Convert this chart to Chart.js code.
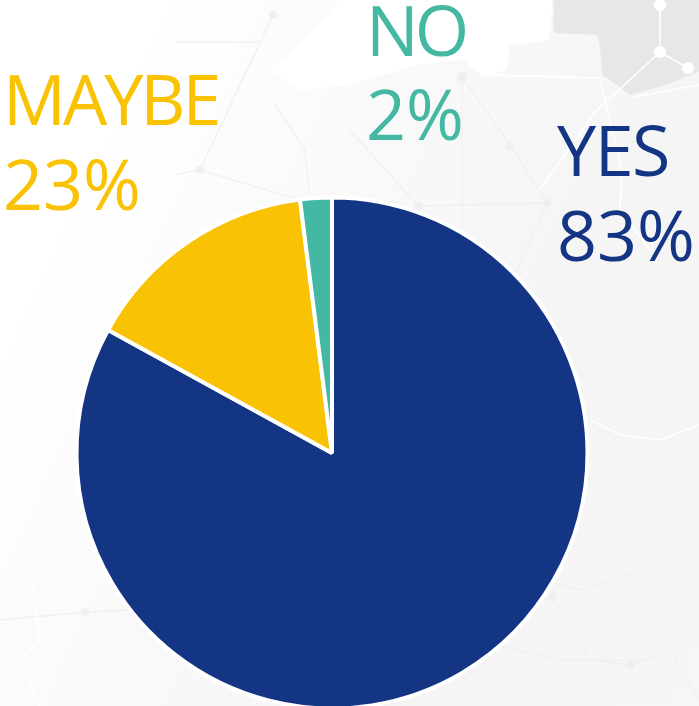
<!DOCTYPE html>
<html>
<head>
<meta charset="utf-8">
<title>Poll</title>
<script src="https://cdn.jsdelivr.net/npm/chart.js@4/dist/chart.umd.min.js"></script>
<style>
html, body { margin: 0; padding: 0; background: #fff; overflow: hidden; }
#wrap { position: relative; width: 699px; height: 706px; overflow: hidden; background: linear-gradient(115deg, #fff 16%, #f9f9f9 42%, #f5f5f5 70%, #f6f6f6 100%); }
#bg { position: absolute; left: 0; top: 0; filter: blur(0.7px); }
#c { position: absolute; left: 0; top: 0; }
</style>
</head>
<body>
<div id="wrap">
  <!-- faint map in the backdrop, not data -->
  <svg id="bg" width="699" height="706" fill="none">
    <path d="M553 0 C556 15 550 30 556 33 L596 35 C602 40 600 70 604 76 L630 95 L665 85 L699 72 L699 0 Z" fill="#e7e7e7"/>
    <path d="M300 45 L340 0 L552 0 C552 20 550 38 547 41 L510 45 L507 70 L483 76 L463 60 L417 65 L350 85 L300 90 L270 70 Z" fill="#fff"/>
    <g stroke="#f0f0f0" stroke-width="1.3">
      <path d="M462 77 L512 147 L547 203 L418 206 L350 130 M462 77 L462 230 M547 203 L515 275 M273 15 L200 170 L175 175 M200 170 L300 200 M175 42 L260 42 L200 170 M275 105 L305 150 L310 200"/>
      <path d="M0 620 L85 612 L130 610 M552 597 L590 660 L630 665 L670 650 L699 700 M475 640 L560 660 L640 660 M505 570 L580 590 L640 570"/>
    </g>
    <g stroke="#fff" stroke-width="1.6">
      <path d="M660 0 L660 52 L595 112 L540 190 M660 52 L688 68 M490 75 L600 78 L612 130 L622 170 L620 210 L650 250 M635 97 L699 85 M590 420 L620 435 L660 440 L699 425 M30 570 L40 640 L20 660 L40 706"/>
    </g>
    <g fill="#fff"><circle cx="660" cy="5" r="6"/><circle cx="660" cy="52" r="6"/><circle cx="688" cy="68" r="6"/></g>
    <g fill="#efefef"><circle cx="462" cy="77" r="5"/><circle cx="510" cy="146" r="4"/><circle cx="547" cy="203" r="4"/><circle cx="418" cy="206" r="4"/><circle cx="273" cy="15" r="4"/><circle cx="200" cy="170" r="4"/><circle cx="85" cy="612" r="4"/><circle cx="630" cy="665" r="4"/><circle cx="552" cy="597" r="4"/></g>
  </svg>
  <!-- canvas runs past the window so the pie can touch the bottom edge -->
  <canvas id="c" width="699" height="730"></canvas>
</div>
<script>
var categories = ['YES', 'MAYBE', 'NO'];
var sliceValues = [83, 15, 2];
var percentLabels = ['83%', '23%', '2%'];
var sliceColors = ['#133584', '#F9C203', '#44B8A2'];

// the text sits outside the pie, so it gets its own small plugin
var textSpots = [
    { x: 557, y1: 176, y2: 261, squeeze: '-1.5px' },
    { x: 3, y1: 125, y2: 210, squeeze: '-3px' },
    { x: 366, y1: 56, y2: 140, squeeze: '-4px' }
];
var outsideLabels = {
    id: 'outsideLabels',
    afterDraw: function (chart) {
        var ctx = chart.ctx;
        ctx.save();
        ctx.font = '70px "Open Sans"';
        ctx.textBaseline = 'alphabetic';
        categories.forEach(function (name, i) {
            ctx.fillStyle = sliceColors[i];
            ctx.letterSpacing = textSpots[i].squeeze;
            ctx.fillText(name, textSpots[i].x, textSpots[i].y1);
            ctx.letterSpacing = '0px';
            ctx.fillText(percentLabels[i], textSpots[i].x, textSpots[i].y2);
        });
        ctx.restore();
    }
};

var ctx = document.getElementById('c').getContext('2d');
var myChart = new Chart(ctx, {
    type: 'pie',
    data: {
        labels: categories,
        datasets: [{
            data: sliceValues,
            backgroundColor: sliceColors,
            borderColor: '#ffffff',
            borderWidth: 4
        }]
    },
    options: {
        responsive: false,
        animation: false,
        layout: { padding: { left: 74.5, right: 109.5, top: 195.5, bottom: 19.5 } },
        plugins: {
            legend: { display: false },
            tooltip: { enabled: false }
        }
    },
    plugins: [outsideLabels]
});
</script>
</body>
</html>
